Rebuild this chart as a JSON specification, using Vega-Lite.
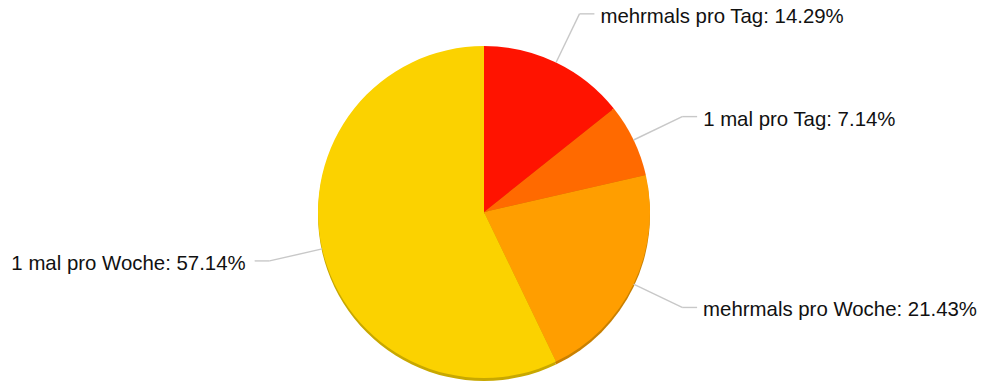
{
  "$schema": "https://vega.github.io/schema/vega-lite/v6.json",
  "width": 332,
  "height": 332,
  "autosize": {"type": "none"},
  "padding": {"left": 318, "top": 46, "right": 332, "bottom": 3},
  "background": "white",
  "config": {"view": {"stroke": null}, "font": "Liberation Sans"},
  "data": {"values": [
    {"kategorie": "mehrmals pro Tag", "anteil": 14.29, "rang": 1},
    {"kategorie": "1 mal pro Tag", "anteil": 7.14, "rang": 2},
    {"kategorie": "mehrmals pro Woche", "anteil": 21.43, "rang": 3},
    {"kategorie": "1 mal pro Woche", "anteil": 57.14, "rang": 4}
  ]},
  "transform": [
    {"window": [{"op": "sum", "field": "anteil", "as": "kum"}], "sort": [{"field": "rang"}]},
    {"joinaggregate": [{"op": "sum", "field": "anteil", "as": "summe"}]},
    {"calculate": "(datum.kum - datum.anteil/2)/datum.summe*2*PI", "as": "mitte"},
    {"calculate": "sin(datum.mitte)", "as": "ex"},
    {"calculate": "cos(datum.mitte)", "as": "ey"},
    {"calculate": "1.325*datum.ex", "as": "bx"},
    {"calculate": "1.325*datum.ey", "as": "by"},
    {"calculate": "datum.bx + (datum.ex >= 0 ? 0.09 : -0.09)", "as": "hx"},
    {"calculate": "datum.ex >= 0 ? 'rechts' : 'links'", "as": "seite"},
    {"calculate": "datum.kategorie + ': ' + format(datum.anteil, '.2f') + '%'", "as": "beschriftung"}
  ],
  "layer": [
    {
      "mark": {"type": "arc", "outerRadius": 166, "yOffset": 3},
      "encoding": {
        "theta": {"field": "anteil", "type": "quantitative", "stack": true},
        "order": {"field": "rang", "type": "quantitative"},
        "color": {"field": "kategorie", "type": "nominal", "legend": null,
          "scale": {"domain": ["mehrmals pro Tag", "1 mal pro Tag", "mehrmals pro Woche", "1 mal pro Woche"],
                    "range": ["#C41000", "#C65200", "#C98000", "#C8A800"]}}
      }
    },
    {
      "mark": {"type": "arc", "outerRadius": 166},
      "encoding": {
        "theta": {"field": "anteil", "type": "quantitative", "stack": true},
        "order": {"field": "rang", "type": "quantitative"},
        "fill": {"field": "kategorie", "type": "nominal", "legend": null,
          "scale": {"domain": ["mehrmals pro Tag", "1 mal pro Tag", "mehrmals pro Woche", "1 mal pro Woche"],
                    "range": ["#FF1300", "#FF6A00", "#FF9E00", "#FBD200"]}}
      }
    },
    {
      "mark": {"type": "rule", "stroke": "#c8c8c8", "strokeWidth": 1.4},
      "encoding": {
        "x": {"field": "ex", "type": "quantitative", "scale": {"domain": [-1, 1]}, "axis": null},
        "y": {"field": "ey", "type": "quantitative", "scale": {"domain": [-1, 1]}, "axis": null},
        "x2": {"field": "bx"},
        "y2": {"field": "by"}
      }
    },
    {
      "mark": {"type": "rule", "stroke": "#c8c8c8", "strokeWidth": 1.4},
      "encoding": {
        "x": {"field": "bx", "type": "quantitative", "scale": {"domain": [-1, 1]}, "axis": null},
        "y": {"field": "by", "type": "quantitative", "scale": {"domain": [-1, 1]}, "axis": null},
        "x2": {"field": "hx"},
        "y2": {"field": "by"}
      }
    },
    {
      "transform": [{"filter": "datum.seite == 'rechts'"}],
      "mark": {"type": "text", "align": "left", "baseline": "middle", "dx": 6, "dy": 3, "fontSize": 20.4, "fill": "#111111"},
      "encoding": {
        "x": {"field": "hx", "type": "quantitative", "scale": {"domain": [-1, 1]}, "axis": null},
        "y": {"field": "by", "type": "quantitative", "scale": {"domain": [-1, 1]}, "axis": null},
        "text": {"field": "beschriftung"}
      }
    },
    {
      "transform": [{"filter": "datum.seite == 'links'"}],
      "mark": {"type": "text", "align": "right", "baseline": "middle", "dx": -9, "dy": 3, "fontSize": 20.4, "fill": "#111111"},
      "encoding": {
        "x": {"field": "hx", "type": "quantitative", "scale": {"domain": [-1, 1]}, "axis": null},
        "y": {"field": "by", "type": "quantitative", "scale": {"domain": [-1, 1]}, "axis": null},
        "text": {"field": "beschriftung"}
      }
    }
  ],
  "resolve": {"scale": {"color": "independent", "fill": "independent"}}
}
